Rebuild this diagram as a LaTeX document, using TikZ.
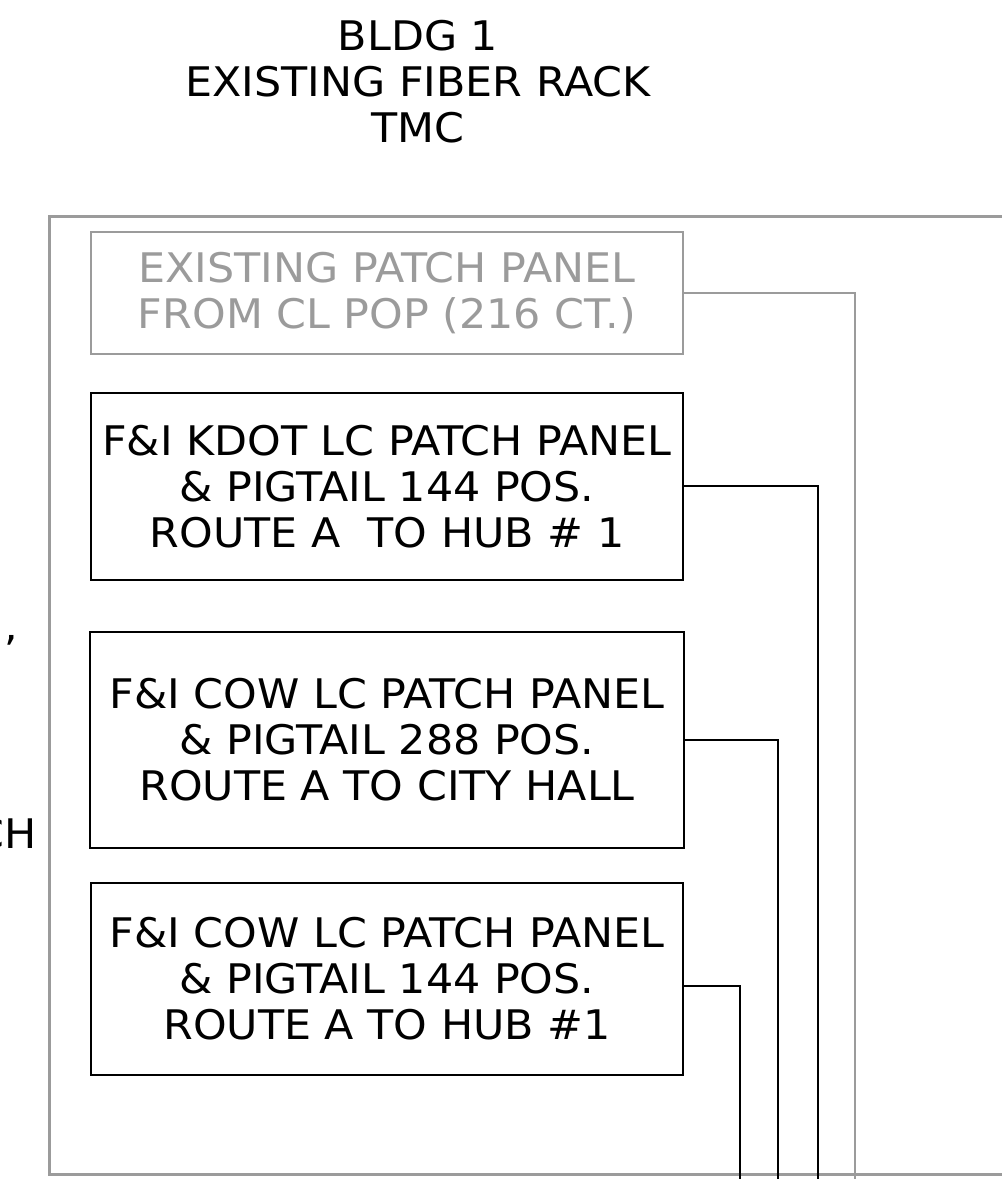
\documentclass[tikz,border=0pt]{standalone}
\usepackage{fontspec}
\setmainfont{DejaVu Sans}[FakeStretch=1.05]
\usepackage{tikz}
\usetikzlibrary{calc,positioning}
\definecolor{rackgray}{RGB}{155,155,155}
\tikzset{
    rackfont/.style={
        font=\fontsize{23.2}{26.2}\selectfont
    },
    panelbox/.style={
        draw, rectangle, line width=1.1pt,
        inner sep=0pt, outer sep=0pt,
        align=center, text=black,
        minimum width=11.84cm,
        rackfont
    }
}

\begin{document}
\begin{tikzpicture}[
      x=0.02cm, y=-0.02cm,
  rack/.style={
    draw=rackgray,
    line width=1.8pt,
    rectangle,
    inner sep=0pt
    },
  oldbox/.style={
    panelbox,
    draw=rackgray,
    text=rackgray,
    line width=1.5pt
    },
  fiber/.style={draw, line width=1.1pt},
  oldfiber/.style={draw=rackgray, line width=1.5pt}
      ]
\useasboundingbox (0,0) rectangle (1001,1179);

\node[rackfont, align=center, inner sep=0pt] (title) at (418,82)
  {BLDG 1\\EXISTING FIBER RACK\\TMC};

% rack outline, runs off the right edge
\node[rack, anchor=north west, minimum width=19.44cm, minimum height=19.16cm]
  (rack) at (48,215) {};

% text cut by the left edge
\node[rackfont, anchor=base east, inner sep=0pt] (cutA) at (18,640) {,};
\node[rackfont, anchor=base east, inner sep=0pt] (cutB) at (37,848) {CH};

\node[oldbox, minimum height=2.44cm] (p0) at (387,293)
  {EXISTING PATCH PANEL\\FROM CL POP (216 CT.)};
\node[panelbox, minimum height=3.74cm] [below=7.8mm of p0] (p1)
  {F\&I KDOT LC PATCH PANEL\\\& PIGTAIL 144 POS.\\ROUTE A\ \ TO HUB \# 1};
\node[panelbox, minimum height=4.32cm, minimum width=11.9cm] [below=10.4mm of p1] (p2)
  {F\&I COW LC PATCH PANEL\\\& PIGTAIL 288 POS.\\ROUTE A TO CITY HALL};
\node[panelbox, minimum height=3.84cm] [below=7mm of p2] (p3)
  {F\&I COW LC PATCH PANEL\\\& PIGTAIL 144 POS.\\ROUTE A TO HUB \#1};

\coordinate (drop0) at (855,1190);
\coordinate (drop1) at (818,1190);
\coordinate (drop2) at (778,1190);
\coordinate (drop3) at (740,1190);

\draw[oldfiber] (p0.east) -| (drop0);
\draw[fiber] (p1.east) -| (drop1);
\draw[fiber] (p2.east) -| (drop2);
\draw[fiber] ([yshift=-1.4mm]p3.east) -| (drop3);

\end{tikzpicture}
\end{document}
